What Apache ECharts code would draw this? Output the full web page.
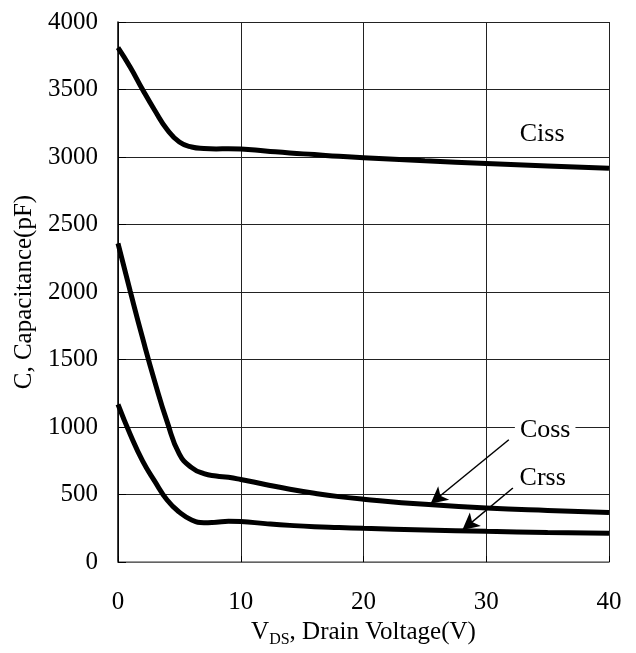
<!DOCTYPE html>
<html>
<head>
<meta charset="utf-8">
<script src="https://cdn.jsdelivr.net/npm/echarts@6/dist/echarts.min.js"></script>
<style>
html,body{margin:0;padding:0;background:#fff;}
#chart{width:636px;height:653px;}
</style>
</head>
<body>
<div id="chart"></div>
<script>
// Drain voltage (V)
var vds  = [0, 1, 2, 3, 4, 5, 6, 7, 8, 9, 10, 12, 14, 16, 18, 20, 25, 30, 35, 40];
// Capacitances (pF)
var ciss = [3810, 3665, 3500, 3345, 3204, 3111, 3074, 3063, 3060, 3062, 3060, 3045, 3030, 3018, 3005, 2995, 2972, 2952, 2933, 2917];
var coss = [2360, 2005, 1660, 1335, 1040, 800, 700, 655, 638, 628, 612, 575, 540, 510, 485, 466, 428, 400, 382, 368];
var crss = [1168, 945, 750, 598, 460, 370, 312, 292, 296, 302, 300, 285, 272, 262, 256, 250, 238, 228, 220, 214];
var xTicks = [0, 10, 20, 30, 40];
var yTicks = [0, 500, 1000, 1500, 2000, 2500, 3000, 3500, 4000];

function pairs(ys) { return vds.map(function (x, i) { return [x, ys[i]]; }); }

var FONT = 'Liberation Serif';
var chart = echarts.init(document.getElementById('chart'), null, {renderer: 'canvas'});

function labelPoint(name, x, y, bg) {
  return {
    name: name, coord: [x, y], symbol: 'circle', symbolSize: 1,
    itemStyle: {color: 'rgba(0,0,0,0)'},
    label: {show: true, position: 'inside', formatter: name, color: '#000',
      fontFamily: FONT, fontSize: 26, backgroundColor: bg || 'transparent', padding: [0, 5]}
  };
}

var lineBase = {type: 'line', smooth: 0.5, showSymbol: false, symbol: 'none',
  lineStyle: {color: '#000', width: 5}, itemStyle: {color: '#000'}, z: 3, animation: false};

var option = {
  animation: false,
  backgroundColor: '#fff',
  grid: {left: 118, right: 27, top: 22, bottom: 88.5, containLabel: false},
  xAxis: {
    type: 'value', min: xTicks[0], max: xTicks[xTicks.length - 1], interval: 10,
    axisLine: {show: true, lineStyle: {color: '#7a7a7a', width: 1.5}},
    axisTick: {show: true, inside: true, length: 6, lineStyle: {color: '#000'}},
    splitLine: {show: true, lineStyle: {color: '#222', width: 1}},
    axisLabel: {color: '#000', fontFamily: FONT, fontSize: 25, margin: 28,
      formatter: function (v) { return String(v); }},
    name: '{v|V}{s|DS}{v|, Drain Voltage(V)}',
    nameLocation: 'middle', nameGap: 38,
    nameTextStyle: {color: '#000', fontFamily: FONT, fontSize: 25,
      rich: {
        v: {fontFamily: FONT, fontSize: 25, color: '#000'},
        s: {fontFamily: FONT, fontSize: 16, color: '#000', padding: [15, 0, 0, 0]}
      }}
  },
  yAxis: {
    type: 'value', min: yTicks[0], max: yTicks[yTicks.length - 1], interval: 500,
    axisLine: {show: true, lineStyle: {color: '#000', width: 1.5}},
    axisTick: {show: true, inside: true, length: 8, lineStyle: {color: '#000'}},
    splitLine: {show: true, lineStyle: {color: '#222', width: 1}},
    axisLabel: {color: '#000', fontFamily: FONT, fontSize: 25, margin: 20,
      formatter: function (v) { return String(v); }},
    name: 'C, Capacitance(pF)', nameLocation: 'middle', nameGap: 71, nameRotate: 90,
    nameTextStyle: {color: '#000', fontFamily: FONT, fontSize: 25}
  },
  series: [
    Object.assign({}, lineBase, {name: 'Ciss', data: pairs(ciss),
      markPoint: {silent: true, data: [labelPoint('Ciss', 34.55, 3167)]}}),
    Object.assign({}, lineBase, {name: 'Coss', data: pairs(coss),
      markPoint: {silent: true, z: 10, data: [labelPoint('Coss', 34.8, 975, '#fff')]},
      markLine: {silent: true, symbol: ['none', 'arrow'], symbolSize: [13, 17],
        label: {show: false}, lineStyle: {color: '#000', width: 1.5, type: 'solid'},
        data: [[{coord: [31.84, 906]}, {coord: [25.46, 432]}]]}}),
    Object.assign({}, lineBase, {name: 'Crss', data: pairs(crss),
      markPoint: {silent: true, data: [labelPoint('Crss', 34.6, 623)]},
      markLine: {silent: true, symbol: ['none', 'arrow'], symbolSize: [13, 17],
        label: {show: false}, lineStyle: {color: '#000', width: 1.5, type: 'solid'},
        data: [[{coord: [32.17, 549]}, {coord: [28.05, 237]}]]}})
  ]
};
chart.setOption(option);
</script>
</body>
</html>
